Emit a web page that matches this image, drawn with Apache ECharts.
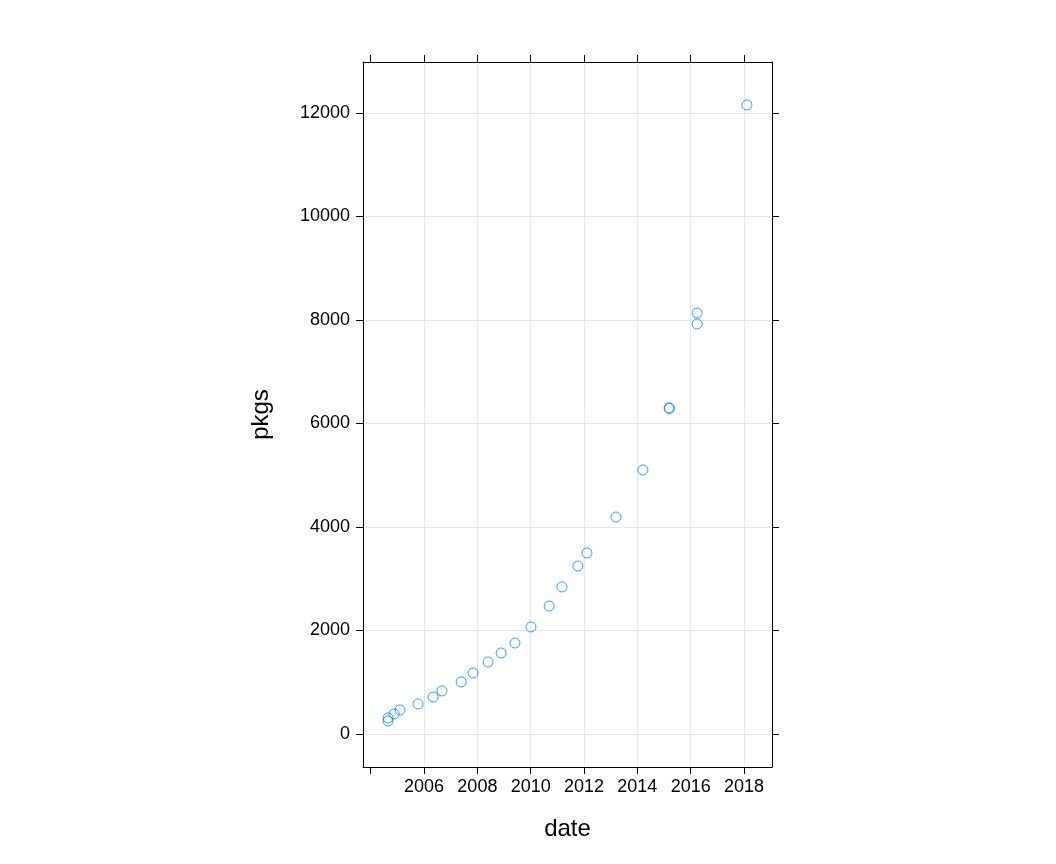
<!DOCTYPE html><html><head><meta charset="utf-8">
<script src="https://cdn.jsdelivr.net/npm/echarts@6/dist/echarts.min.js"></script>
<style>body{margin:0}#c{width:1056px;height:864px}</style></head><body><div id="c"></div>
<script>
const dates=[2004.65,2004.65,2004.875,2005.1,2005.775,2006.34,2006.67,2007.39,2007.84,2008.4,2008.89,2009.41,2010.01,2010.69,2011.17,2011.77,2012.11,2013.2,2014.21,2015.19,2015.2,2016.24,2016.24,2018.11];
const pkgs=[251,309,386,464,580,715,831,1005,1179,1391,1565,1758,2068,2473,2841,3246,3498,4193,5101,6300,6290,8135,7923,12155];
const xTicks=[2004,2006,2008,2010,2012,2014,2016,2018];
const xLabels=[2006,2008,2010,2012,2014,2016,2018];
const yTicks=[0,2000,4000,6000,8000,10000,12000];
const font='Liberation Sans, Arial, sans-serif';
const xr=[2003.71,2019.05], yr=[-638,12985];
function xa(pos,show){return {type:'value',position:pos,min:xr[0],max:xr[1],
 name:show?'date':'',nameLocation:'middle',nameGap:50,nameTextStyle:{fontSize:24,color:'#000',fontFamily:font},
 axisLine:{show:true,onZero:false,lineStyle:{color:'#000',width:1}},
 axisTick:{show:true,customValues:xTicks,length:7,lineStyle:{color:'#000'}},
 axisLabel:{show:show,customValues:xLabels,formatter:v=>String(v),fontSize:18,color:'#000',fontFamily:font,margin:11},
 splitLine:{show:false}};}
function ya(pos,show){return {type:'value',position:pos,min:yr[0],max:yr[1],
 name:show?'pkgs':'',nameLocation:'middle',nameGap:90,nameTextStyle:{fontSize:24,color:'#000',fontFamily:font},
 axisLine:{show:true,onZero:false,lineStyle:{color:'#000',width:1}},
 axisTick:{show:true,customValues:yTicks,length:7,lineStyle:{color:'#000'}},
 axisLabel:{show:show,customValues:yTicks,formatter:v=>String(v),fontSize:18,color:'#000',fontFamily:font,margin:13},
 splitLine:{show:false}};}
const grid='#e6e6e6';
const opt={animation:false,backgroundColor:'#fff',
 grid:{left:363,top:62,width:409,height:705},
 xAxis:[xa('bottom',true),xa('top',false)],
 yAxis:[ya('left',true),ya('right',false)],
 series:[{type:'scatter',data:dates.map((d,i)=>[d,pkgs[i]]),symbol:'circle',symbolSize:10,
  itemStyle:{color:'rgba(255,255,255,0)',borderColor:'#0080ff',borderWidth:1},
  markLine:{silent:true,symbol:'none',label:{show:false},lineStyle:{color:grid,type:'solid',width:1},z:0,
   data:xLabels.map(v=>({xAxis:v})).concat(yTicks.map(v=>({yAxis:v})))}}]};
echarts.init(document.getElementById('c')).setOption(opt);
</script></body></html>
